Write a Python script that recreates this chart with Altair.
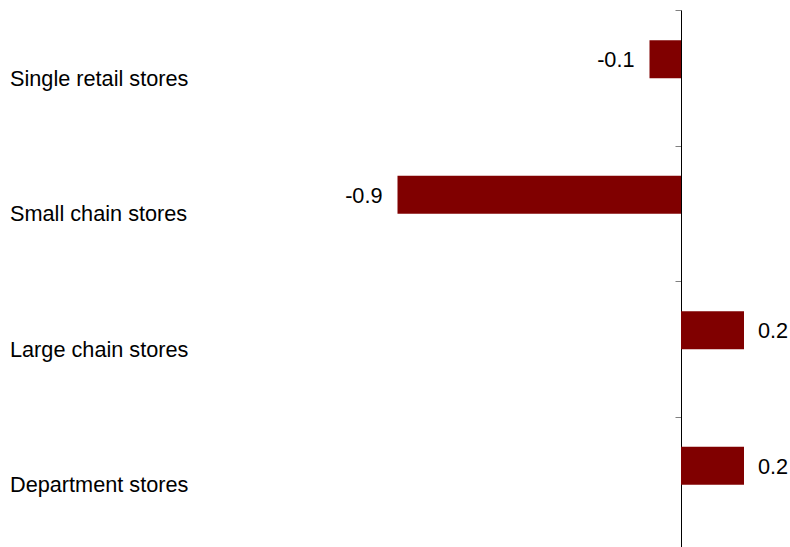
import altair as alt
import pandas as pd

categories = ["Single retail stores", "Small chain stores", "Large chain stores", "Department stores"]
values = [-0.1, -0.9, 0.2, 0.2]
labels = ["-0.1", "-0.9", "0.2", "0.2"]

df = pd.DataFrame({"cat": categories, "val": values, "lab": labels})

FONT = "Liberation Sans"
FS = 21.7
xscale = alt.Scale(domain=[-671 / 315, 109 / 315], nice=False, zero=False)
yscale = alt.Scale(domain=categories, range=[0, 542], paddingInner=0, paddingOuter=0)
yaxis = alt.Axis(orient="left", offset=-671, labels=False, title=None,
                 domainColor="black", domainWidth=1, tickColor="#808080",
                 tickSize=6, tickBand="extent", grid=False)

base = alt.Chart(df)

bars = base.mark_bar(color="#800000", size=38, yOffset=-18.5).encode(
    x=alt.X("val:Q", scale=xscale, axis=None),
    x2=alt.datum(0),
    y=alt.Y("cat:N", scale=yscale, axis=yaxis),
)

neg_text = base.transform_filter(alt.datum.val < 0).mark_text(
    align="right", baseline="middle", dx=-15, dy=-17.5, font=FONT, fontSize=FS, color="black"
).encode(x=alt.X("val:Q", scale=xscale, axis=None), y=alt.Y("cat:N", scale=yscale, axis=yaxis), text="lab:N")

pos_text = base.transform_filter(alt.datum.val >= 0).mark_text(
    align="left", baseline="middle", dx=14, dy=-17.5, font=FONT, fontSize=FS, color="black"
).encode(x=alt.X("val:Q", scale=xscale, axis=None), y=alt.Y("cat:N", scale=yscale, axis=yaxis), text="lab:N")

cat_text = base.mark_text(
    align="left", baseline="middle", dy=1, font=FONT, fontSize=FS, color="black"
).encode(x=alt.value(0), y=alt.Y("cat:N", scale=yscale, axis=yaxis), text="cat:N")

chart = alt.layer(bars, neg_text, pos_text, cat_text).properties(
    width=780, height=537,
    background="white",
    padding={"left": 10, "top": 10, "right": 0, "bottom": 0},
    autosize=alt.AutoSizeParams(type="none"),
).configure_view(stroke=None, strokeWidth=0)

chart.save("out.html", embed_options={"renderer": "svg", "actions": False})
